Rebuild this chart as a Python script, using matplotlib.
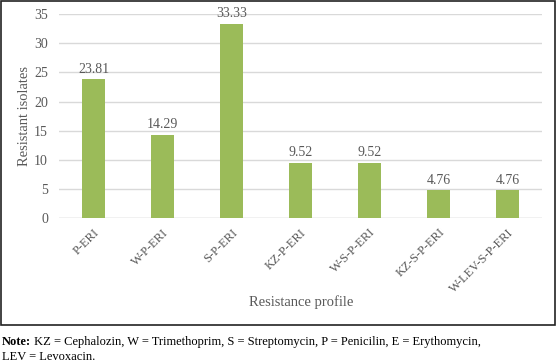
import matplotlib.pyplot as plt
from matplotlib.patches import Rectangle
from matplotlib.transforms import offset_copy

profiles = ['P-ERI', 'W-P-ERI', 'S-P-ERI', 'KZ-P-ERI', 'W-S-P-ERI', 'KZ-S-P-ERI', 'W-LEV-S-P-ERI']
resistant = [23.81, 14.29, 33.33, 9.52, 9.52, 4.76, 4.76]
yticks = [0, 5, 10, 15, 20, 25, 30, 35]

grey = '#595959'
plt.rcParams['font.family'] = ['Liberation Serif', 'DejaVu Serif']

fig = plt.figure(figsize=(5.57, 3.63), dpi=100)
ax = fig.add_axes([0.106, 0.399, 0.867, 0.562])

x = range(len(profiles))
bars = ax.bar(x, resistant, width=0.32, color='#9BBB59', zorder=3)
for b, v in zip(bars, resistant):
    ax.text(b.get_x() + b.get_width() / 2, v + 0.6, f'{v:.2f}', ha='center', va='bottom',
            fontsize=10, color=grey)

ax.set_ylim(0, 35)
ax.set_xlim(-0.5, len(profiles) - 0.5)
ax.set_yticks(yticks)
ax.yaxis.grid(True, color='#d9d9d9', linewidth=1, zorder=0)
ax.tick_params(axis='y', length=0, labelsize=10, colors=grey, pad=8)
ax.tick_params(axis='x', length=0, labelsize=9, colors=grey, pad=6)
ax.set_xticks(list(x))
ax.set_xticklabels(profiles, rotation=45, ha='right', rotation_mode='anchor')
for s in ax.spines.values():
    s.set_visible(False)
ax.axhline(0, color='#d9d9d9', linewidth=1, zorder=2)

ax.set_ylabel('Resistant isolates', fontsize=10.5, color=grey, labelpad=2)
fig.text(0.54, 0.168, 'Resistance profile', ha='center', va='center', fontsize=10.5, color=grey)

fig.patches.append(Rectangle((0.002, 0.105), 0.995, 0.893, transform=fig.transFigure,
                             fill=False, edgecolor='#222222', linewidth=1.2))

note = fig.text(0.004, 0.058, 'Note:', fontsize=9, va='center', fontweight='bold')
fig.canvas.draw()
w = note.get_window_extent().width
fig.text(0.004, 0.058, ' KZ = Cephalozin, W = Trimethoprim, S = Streptomycin, P = Penicilin, E = Erythomycin,',
         fontsize=9, va='center',
         transform=offset_copy(fig.transFigure, fig=fig, x=w, y=0, units='dots'))
fig.text(0.004, 0.017, 'LEV = Levoxacin.', fontsize=9, va='center')

fig.savefig('out.png', dpi=100)
